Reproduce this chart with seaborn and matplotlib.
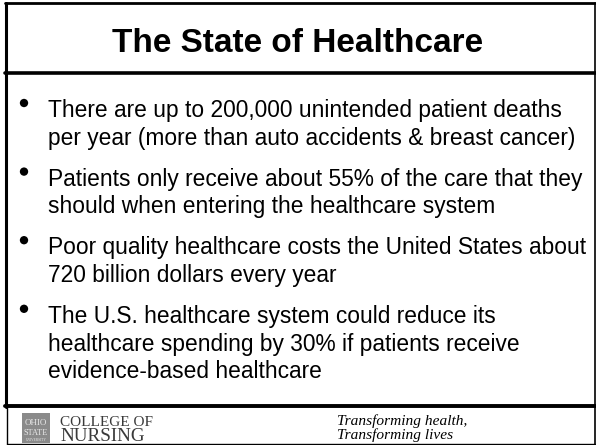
import matplotlib.pyplot as plt
import seaborn as sns
import pandas as pd

# slide text
title = 'The State of Healthcare'
bullets = [
    ['There are up to 200,000 unintended patient deaths',
     'per year (more than auto accidents & breast cancer)'],
    ['Patients only receive about 55% of the care that they',
     'should when entering the healthcare system'],
    ['Poor quality healthcare costs the United States about',
     '720 billion dollars every year'],
    ['The U.S. healthcare system could reduce its',
     'healthcare spending by 30% if patients receive',
     'evidence-based healthcare'],
]
college = ['COLLEGE OF', 'NURSING']
motto = ['Transforming health,', 'Transforming lives']

sns.set_theme(style='white')
plt.rcParams['font.family'] = ['Liberation Sans', 'DejaVu Sans']

fig = plt.figure(figsize=(5.96, 4.45), dpi=100)
ax = fig.add_axes([0, 0, 1, 1])
ax.set_xlim(0, 596)
ax.set_ylim(445, 0)
ax.axis('off')

# frame lines
ax.plot([6, 6], [3, 407], color='black', lw=2.2)
ax.plot([5, 595], [3, 3], color='black', lw=2)
ax.plot([595, 595], [3, 444], color='black', lw=1.2)
ax.plot([5, 596], [73, 73], color='black', lw=2.6)
ax.plot([5, 596], [406, 406], color='black', lw=2.8)
ax.plot([7, 7], [406, 444], color='black', lw=1)
ax.plot([7, 595], [444, 444], color='black', lw=1)

ax.text(298, 52, title, ha='center', va='baseline', fontsize=24,
        fontweight='bold', color='black')

# bullets
rows = []
y = 117
for item in bullets:
    rows.append({'x': 24, 'y': y - 14})
    for line in item:
        ax.text(48, y, line, ha='left', va='baseline', fontsize=16.4, color='black')
        y += 27.8
    y += 13
dots = pd.DataFrame(rows)
sns.scatterplot(data=dots, x='x', y='y', ax=ax, color='black', s=36,
                edgecolor='none', legend=False)

# footer
ax.add_patch(plt.Rectangle((22, 413), 28, 30, color='#8a8a8a', lw=0))
ax.text(36, 423, 'OHIO', ha='center', va='center', fontsize=6.5,
        family='Liberation Serif', color='#e8e8e8')
ax.text(36, 433, 'STATE', ha='center', va='center', fontsize=6,
        family='Liberation Serif', color='#e8e8e8')
ax.text(36, 440, 'UNIVERSITY', ha='center', va='center', fontsize=2.5,
        family='Liberation Serif', color='#e8e8e8')
ax.text(60, 426, college[0], ha='left', va='baseline', fontsize=11,
        family='Liberation Serif', color='#3a3a3a')
ax.text(60, 441, college[1], ha='left', va='baseline', fontsize=13.8,
        family='Liberation Serif', color='#3a3a3a')
ax.text(337, 425, motto[0], ha='left', va='baseline', fontsize=11.1,
        family='Liberation Serif', style='italic', color='black')
ax.text(337, 439.5, motto[1], ha='left', va='baseline', fontsize=11.1,
        family='Liberation Serif', style='italic', color='black')

fig.savefig('out.png', dpi=100, facecolor='white')
